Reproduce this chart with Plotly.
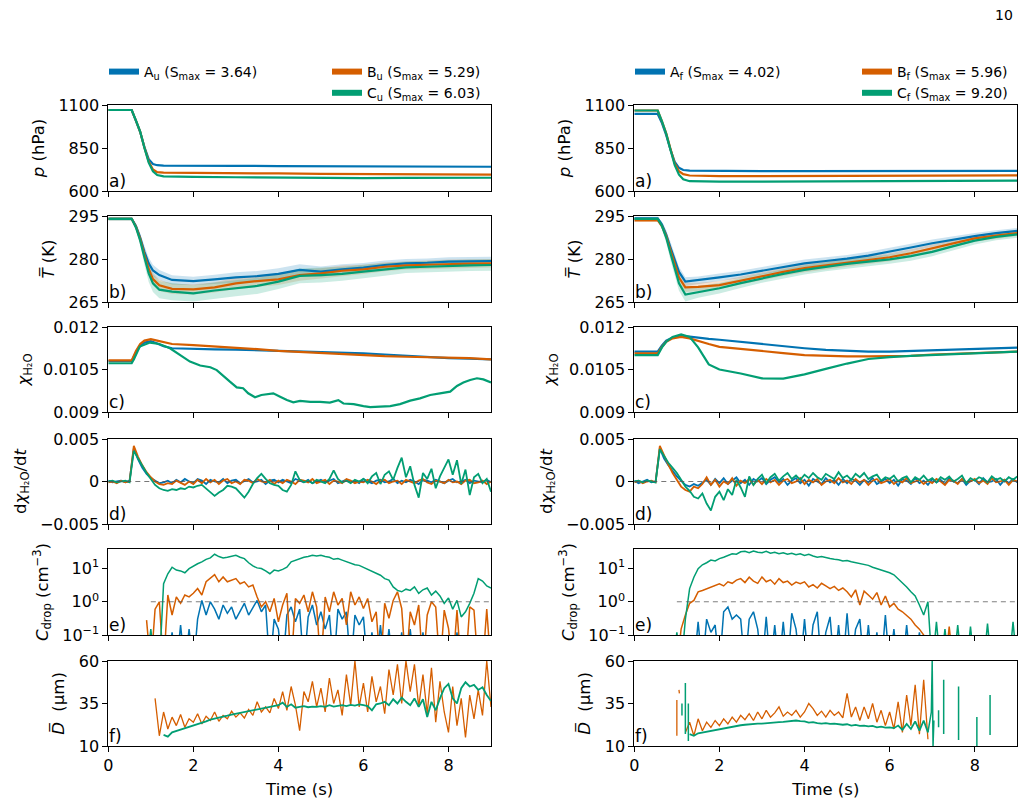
import plotly.graph_objects as go

BLUE = '#0173b2'
ORANGE = '#d55e00'
GREEN = '#029e73'

# ---------------- time grids ----------------
T10 = [0.0, 0.1, 0.2, 0.3, 0.4, 0.5, 0.6, 0.7, 0.8, 0.9,
       1.0, 1.1, 1.2, 1.3, 1.4, 1.5, 1.6, 1.7, 1.8, 1.9,
       2.0, 2.1, 2.2, 2.3, 2.4, 2.5, 2.6, 2.7, 2.8, 2.9,
       3.0, 3.1, 3.2, 3.3, 3.4, 3.5, 3.6, 3.7, 3.8, 3.9,
       4.0, 4.1, 4.2, 4.3, 4.4, 4.5, 4.6, 4.7, 4.8, 4.9,
       5.0, 5.1, 5.2, 5.3, 5.4, 5.5, 5.6, 5.7, 5.8, 5.9,
       6.0, 6.1, 6.2, 6.3, 6.4, 6.5, 6.6, 6.7, 6.8, 6.9,
       7.0, 7.1, 7.2, 7.3, 7.4, 7.5, 7.6, 7.7, 7.8, 7.9,
       8.0, 8.1, 8.2, 8.3, 8.4, 8.5, 8.6, 8.7, 8.8, 8.9,
       9.0]

# ---------------- a) pressure (hPa) ----------------
t_a = [0, 0.55, 0.65, 0.75, 0.85, 0.95, 1.05, 1.15, 1.3, 1.6, 2, 3, 4, 5, 6, 7, 8, 9]
p_Au = [1071, 1071, 1008, 943, 855, 785, 757, 750, 748, 747, 747, 746, 745, 744, 743, 742, 742, 741]
p_Bu = [1071, 1071, 1009, 944, 852, 772, 725, 710, 707, 706, 705, 704, 702, 700, 699, 698, 696, 695]
p_Cu = [1071, 1071, 1010, 945, 850, 765, 715, 693, 685, 683, 682, 680, 677, 676, 675, 676, 677, 677]
p_Af = [1048, 1048, 995, 925, 840, 770, 735, 722, 718, 717, 716, 716, 716, 716, 716, 716, 717, 717]
p_Bf = [1068, 1068, 1005, 935, 845, 760, 715, 698, 690, 688, 687, 687, 687, 688, 688, 689, 690, 691]
p_Cf = [1068, 1068, 1005, 933, 840, 750, 695, 668, 657, 655, 654, 654, 655, 656, 656, 657, 658, 660]

# ---------------- b) mean temperature (K) and spread ----------------
t_b = [0, 0.55, 0.65, 0.75, 0.85, 0.95, 1.05, 1.2, 1.5, 2, 2.5, 3, 3.5, 4, 4.5, 5, 5.5, 6, 6.5, 7, 7.5, 8, 8.5, 9]
T_Au = [294, 294, 291.5, 287.5, 282.5, 278.5, 276, 274.4, 272.7, 272.3, 272.9, 273.6, 274.0, 274.8, 276.2, 275.6, 276.4, 277.0, 277.9, 278.5, 278.7, 279.1, 279.2, 279.3]
T_Bu = [294, 294, 291.3, 287, 281.5, 276.5, 273, 270.8, 269.6, 269.4, 270.1, 271.5, 272.3, 272.9, 274.4, 275.0, 275.9, 276.4, 277.3, 277.8, 278.0, 278.3, 278.4, 278.5]
T_Cu = [294, 294, 291, 286.5, 280.5, 275, 271.5, 269.3, 268.6, 268.0, 269.0, 269.8, 270.6, 272.1, 274.1, 274.4, 274.8, 275.6, 276.4, 277.1, 277.3, 277.6, 277.8, 277.9]
sT_Au = [0.6, 0.6, 1.0, 1.5, 2.0, 2.0, 2.0, 1.8, 1.6, 1.5, 1.6, 1.8, 1.8, 2.0, 2.0, 1.8, 1.8, 1.6, 1.6, 1.5, 1.5, 1.5, 1.5, 1.5]
sT_Bu = [0.6, 0.6, 1.0, 1.5, 2.0, 2.2, 2.2, 2.0, 1.8, 1.8, 1.8, 2.0, 2.0, 2.0, 2.0, 1.8, 1.8, 1.6, 1.6, 1.5, 1.5, 1.5, 1.5, 1.5]
sT_Cu = [0.6, 0.6, 1.2, 1.8, 2.5, 3.0, 3.0, 3.0, 3.0, 2.8, 2.8, 2.8, 2.8, 2.6, 2.6, 2.6, 2.4, 2.4, 2.2, 2.0, 2.0, 2.0, 2.0, 2.0]
T_Af = [294.2, 294.2, 292, 288.5, 284, 279.5, 275.5, 272.1, 272.6, 273.6, 274.6, 275.9, 277.2, 278.5, 279.3, 280.1, 281.2, 282.5, 284.0, 285.5, 286.8, 288.0, 289.0, 289.8]
T_Bf = [293.5, 293.5, 291.5, 288, 283, 278, 273.5, 270.1, 270.3, 270.9, 272.5, 274.1, 275.5, 276.8, 277.8, 278.8, 279.7, 280.6, 282.0, 283.7, 285.5, 287.2, 288.2, 289.0]
T_Cf = [294, 294, 291.5, 287.5, 282, 276.5, 271.5, 267.6, 268.5, 269.8, 271.6, 273.3, 274.8, 276.2, 277.3, 278.3, 279.1, 279.9, 281.0, 282.5, 284.5, 286.4, 287.7, 288.6]
sT_Af = [0.5, 0.5, 1.0, 1.5, 2.0, 2.0, 1.8, 1.5, 1.3, 1.3, 1.3, 1.3, 1.3, 1.3, 1.3, 1.3, 1.3, 1.3, 1.3, 1.3, 1.2, 1.1, 1.0, 1.0]
sT_Bf = [0.5, 0.5, 1.0, 1.5, 2.0, 2.0, 1.8, 1.6, 1.4, 1.4, 1.4, 1.4, 1.4, 1.4, 1.4, 1.4, 1.4, 1.4, 1.4, 1.4, 1.3, 1.2, 1.1, 1.0]
sT_Cf = [0.5, 0.5, 1.2, 1.8, 2.4, 2.6, 2.6, 2.4, 2.0, 1.8, 1.7, 1.6, 1.6, 1.6, 1.6, 1.6, 1.6, 1.6, 1.6, 1.5, 1.4, 1.3, 1.2, 1.2]

# ---------------- c) water vapour mixing ratio ----------------
t_c = [0, 0.55, 0.65, 0.75, 0.85, 1.0, 1.15, 1.3, 1.5, 2, 2.5, 3, 3.5, 4, 4.5, 5, 5.5, 6, 6.5, 7, 7.5, 8, 8.5, 9]
chi_Au = [0.01080, 0.01080, 0.01110, 0.01133, 0.01145, 0.01150, 0.01142, 0.01132, 0.01125, 0.01122, 0.01121, 0.01120, 0.01118, 0.01116, 0.01113, 0.01110, 0.01109, 0.01107, 0.01103, 0.01098, 0.01093, 0.01090, 0.01088, 0.01086]
chi_Bu = [0.01082, 0.01082, 0.01115, 0.01140, 0.01152, 0.01157, 0.01152, 0.01146, 0.01140, 0.01136, 0.01132, 0.01128, 0.01122, 0.01116, 0.01112, 0.01107, 0.01103, 0.01100, 0.01097, 0.01095, 0.01094, 0.01093, 0.01090, 0.01086]
t_cg = [0, 0.55, 0.6, 0.74, 0.98, 1.2, 1.45, 1.68, 1.92, 2.16, 2.4, 2.55, 2.7, 2.86, 3.02, 3.17, 3.29, 3.45, 3.6, 3.73, 3.88, 4.04, 4.2, 4.35, 4.51, 4.75, 4.98, 5.21, 5.41, 5.53, 5.77, 6.0, 6.16, 6.39, 6.63, 6.86, 7.1, 7.33, 7.57, 7.8, 8.04, 8.2, 8.35, 8.51, 8.67, 8.82, 9.0]
chi_Cu = [0.01072, 0.01072, 0.01085, 0.01131, 0.01145, 0.01140, 0.01125, 0.01101, 0.01078, 0.01064, 0.01058, 0.01048, 0.01027, 0.01007, 0.00987, 0.00984, 0.00966, 0.00952, 0.00960, 0.00964, 0.00966, 0.00954, 0.00942, 0.00934, 0.00939, 0.00936, 0.00936, 0.00933, 0.00942, 0.00930, 0.00928, 0.00921, 0.00917, 0.00919, 0.00921, 0.00928, 0.00940, 0.00948, 0.00960, 0.00966, 0.00972, 0.00992, 0.01004, 0.01013, 0.01019, 0.01015, 0.01004]
t_c2 = [0, 0.55, 0.65, 0.75, 0.9, 1.1, 1.3, 1.5, 1.75, 2, 2.5, 3, 3.5, 4, 4.5, 5, 5.5, 6, 6.5, 7, 7.5, 8, 8.5, 9]
chi_Af = [0.01113, 0.01113, 0.01135, 0.01152, 0.01163, 0.01168, 0.01166, 0.01162, 0.01158, 0.01155, 0.01147, 0.01140, 0.01132, 0.01125, 0.01119, 0.01115, 0.01113, 0.01113, 0.01115, 0.01117, 0.01120, 0.01122, 0.01124, 0.01127]
chi_Bf = [0.01107, 0.01107, 0.01130, 0.01148, 0.01160, 0.01165, 0.01160, 0.01150, 0.01140, 0.01130, 0.01122, 0.01115, 0.01108, 0.01101, 0.01098, 0.01096, 0.01096, 0.01096, 0.01098, 0.01103, 0.01105, 0.01107, 0.01110, 0.01113]
chi_Cf = [0.01101, 0.01101, 0.01128, 0.01148, 0.01165, 0.01174, 0.01165, 0.01128, 0.01068, 0.01050, 0.01036, 0.01019, 0.01018, 0.01033, 0.01052, 0.01071, 0.01087, 0.01094, 0.01098, 0.01101, 0.01104, 0.01107, 0.01110, 0.01113]

# ---------------- d) d(chi)/dt, in units of 1e-3 (on T10) ----------------
dchi_Au_e3 = [0.1, -0.1, 0.0, 0.1, -0.1, 0.1, 3.9, 2.6, 1.6, 0.9,
              0.4, 0.1, -0.2, -0.1, 0.1, -0.2, 0.2, -0.1, 0.3, 0.0,
              -0.2, 0.3, 0.1, -0.3, 0.2, 0.0, -0.1, 0.3, -0.2, 0.1,
              0.2, -0.2, 0.1, 0.3, -0.1, 0.0, 0.2, -0.3, 0.1, 0.2,
              -0.1, 0.2, 0.0, -0.2, 0.3, 0.1, -0.1, 0.2, -0.2, 0.0,
              0.2, -0.1, 0.1, 0.3, -0.2, 0.0, 0.2, -0.1, 0.1, -0.2,
              0.3, 0.0, -0.2, 0.1, 0.2, -0.1, 0.0, 0.3, -0.2, 0.1,
              -0.1, 0.2, 0.0, -0.3, 0.2, 0.1, -0.1, 0.2, 0.0, -0.2,
              0.1, 0.3, -0.1, 0.0, 0.2, -0.2, 0.1, 0.0, -0.1, 0.2,
              -0.1]
dchi_Bu_e3 = [-0.1, 0.0, -0.2, 0.1, -0.1, 0.0, 4.2, 2.9, 1.9, 1.1,
              0.5, 0.0, -0.3, -0.4, -0.2, -0.3, 0.1, -0.2, -0.4, 0.0,
              -0.3, 0.2, -0.2, 0.3, -0.1, 0.2, -0.3, 0.1, 0.3, -0.2,
              0.0, -0.3, 0.2, 0.1, -0.2, 0.3, 0.0, -0.1, 0.2, -0.3,
              0.1, -0.2, 0.2, 0.0, -0.3, 0.2, 0.1, -0.1, 0.3, -0.2,
              0.0, 0.2, -0.3, 0.1, 0.0, -0.2, 0.3, 0.1, -0.2, 0.0,
              -0.1, 0.2, 0.0, -0.3, 0.1, 0.2, -0.2, 0.0, 0.1, -0.3,
              0.2, 0.0, -0.2, 0.1, 0.3, -0.1, -0.3, 0.1, 0.0, -0.2,
              0.2, -0.1, 0.0, -0.3, 0.1, 0.2, -0.2, -0.1, 0.1, -0.3,
              0.0]
dchi_Cu_e3 = [0.0, 0.1, -0.1, 0.0, 0.1, -0.1, 3.6, 2.7, 1.8, 1.0,
              0.3, -0.4, -0.8, -1.0, -1.1, -0.9, -1.0, -0.8, -0.9, -0.6,
              -0.7, -0.5, -0.4, -0.8, -1.2, -1.7, -1.3, -1.0, -0.5, -0.6,
              -0.8, -1.3, -1.9, -1.2, -0.3, 0.4, 0.9, 0.3, -0.2, -0.4,
              -0.5, -1.0, -1.2, -0.4, 1.2, 0.2, -0.1, 0.1, -0.2, 0.2,
              0.0, -0.2, 0.3, 1.3, 0.3, -0.1, 0.1, -0.2, 0.2, 0.0,
              0.3, -0.2, 0.6, 1.0, -0.3, 0.8, 1.2, 0.2, 1.6, 2.8,
              0.5, 1.8, -0.4, -1.9, 1.0, 0.3, 1.5, -0.8, 0.6, 1.7,
              2.6, 0.8, 2.5, -0.3, 1.4, -1.6, 0.5, 0.9, -0.2, 0.3,
              -1.2]
dchi_Af_e3 = [0.1, -0.2, 0.0, 0.2, -0.1, 0.0, 3.9, 2.7, 1.9, 1.2,
              0.6, 0.1, -0.4, -0.6, -0.3, -0.5, -0.2, 0.2, -0.4, 0.3,
              -0.2, 0.4, -0.3, 0.1, 0.5, -0.2, 0.2, -0.4, 0.3, 0.0,
              0.4, -0.3, 0.2, 0.5, -0.1, 0.3, -0.4, 0.1, 0.4, -0.2,
              0.2, -0.5, 0.3, 0.0, -0.3, 0.4, -0.1, 0.2, -0.4, 0.3,
              -0.2, 0.3, 0.1, -0.4, 0.2, -0.1, 0.4, -0.3, 0.0, 0.3,
              -0.2, 0.2, -0.5, 0.3, 0.1, -0.3, 0.4, -0.2, 0.1, -0.4,
              0.3, -0.1, 0.2, -0.3, 0.4, 0.0, -0.2, 0.3, -0.4, 0.1,
              0.2, -0.3, 0.4, -0.1, 0.0, 0.3, -0.4, 0.2, -0.2, 0.3,
              -0.1]
dchi_Bf_e3 = [-0.1, 0.1, -0.2, 0.0, 0.1, -0.1, 4.2, 3.0, 2.0, 1.0,
              0.2, -0.6, -1.0, -1.2, -0.6, -0.8, -0.3, 0.5, -0.4, 0.2,
              -0.6, 0.0, -0.3, 0.4, -0.5, 0.1, -0.2, 0.3, -0.4, 0.2,
              -0.3, 0.3, -0.1, 0.2, -0.4, 0.1, 0.3, -0.2, 0.0, 0.4,
              -0.3, 0.2, -0.1, 0.3, -0.4, 0.0, 0.2, -0.2, 0.4, -0.1,
              0.1, -0.3, 0.3, -0.1, 0.2, -0.4, 0.1, 0.3, -0.2, 0.0,
              0.3, -0.3, 0.1, -0.1, 0.4, -0.2, 0.0, 0.2, -0.3, 0.1,
              -0.2, 0.3, 0.0, -0.4, 0.2, 0.1, -0.3, 0.3, -0.1, 0.0,
              0.3, -0.2, 0.1, -0.3, 0.4, -0.1, 0.0, 0.2, -0.4, 0.2,
              0.0]
dchi_Cf_e3 = [0.0, 0.1, -0.1, 0.1, 0.0, -0.1, 3.8, 3.0, 2.2, 1.6,
              1.0, 0.2, -0.6, -1.1, -1.8, -2.0, -1.4, -2.6, -3.4, -1.8,
              -1.2, -2.2, -0.9, -1.6, 0.2, -0.7, -1.8, 0.6, -0.4, 0.3,
              0.8, -0.2, 0.5, 0.9, 0.1, 0.6, 1.0, 0.3, 0.7, 0.2,
              0.8, 0.4, 1.0, 0.5, 0.2, 0.9, 0.6, 0.3, 1.1, 0.4,
              0.7, 0.2, 0.9, 0.5, 1.0, 0.3, 0.6, 0.8, 0.1, 0.5,
              0.3, 0.7, 0.0, 0.4, 0.6, -0.1, 0.5, 0.2, 0.7, 0.1,
              0.4, -0.1, 0.5, 0.2, 0.6, 0.0, 0.3, 0.7, -0.2, 0.4,
              0.1, 0.5, 0.3, -0.1, 0.6, 0.2, 0.4, 0.0, 0.5, 0.2,
              0.6]

# ---------------- e) droplet concentration (cm^-3) on T10; 0.01 = below axis ----------------
N = None
C_Au = [N, N, N, N, N, N, N, N, N, N,
        N, N, N, N, 0.01, 0.12, 0.01, 0.2, 0.01, 0.15,
        0.01, 0.3, 1.1, 0.4, 1.0, 0.6, 0.3, 0.8, 0.45, 0.7,
        0.3, 0.5, 0.9, 0.4, 0.7, 1.1, 0.5, 0.8, 0.01, 0.3,
        0.15, 0.01, 0.4, 0.7, 0.25, 0.6, 0.01, 0.35, 0.8, 0.2,
        0.5, 0.15, 0.4, 0.01, 0.6, 0.3, 0.5, 0.01, 0.4, 0.2,
        0.35, 0.01, 0.12, 0.01, 0.2, 0.01, 0.15, 0.01, 0.01, 0.12,
        0.01, 0.15, 0.01, 0.01, 0.12, 0.01, 0.01, 0.01, 0.01, 0.01,
        0.01, 0.01, 0.12, 0.01, 0.01, N, N, N, N, N,
        N]
C_Bu = [N, N, N, N, N, N, N, N, N, 0.28,
        0.01, 0.6, 1.0, 0.01, 1.6, 0.4, 1.4, 0.9, 1.6, 1.4,
        1.8, 2.5, 1.6, 4.0, 5.0, 6.6, 4.0, 5.6, 4.0, 4.5,
        5.0, 3.5, 4.0, 2.8, 3.2, 1.4, 0.7, 1.0, 0.5, 1.26,
        0.25, 0.8, 1.8, 0.01, 1.26, 0.9, 1.6, 0.5, 2.0, 0.7,
        0.01, 1.4, 0.5, 2.0, 0.8, 1.26, 0.2, 2.0, 0.8, 1.4,
        0.63, 1.26, 0.25, 0.5, 0.01, 0.9, 0.32, 1.1, 2.0, 0.63,
        0.01, 0.5, 0.2, 0.8, 0.01, 0.4, 1.0, 0.7, 0.01, 0.56,
        0.16, 0.01, 0.56, 0.01, 0.01, 0.7, 0.56, 0.01, 0.01, 0.6,
        0.01]
C_Cu = [N, N, N, N, N, N, N, N, N, 0.01,
        0.15, 0.01, 0.01, 3.5, 7.0, 11.0, 9.0, 8.5, 7.5, 10.0,
        12.0, 14.0, 16.0, 19.0, 21.0, 27.0, 23.0, 21.0, 22.0, 24.0,
        25.0, 22.0, 20.0, 15.0, 12.0, 10.5, 10.0, 8.5, 7.0, 9.0,
        8.5, 9.5, 11.0, 16.0, 18.0, 20.0, 22.0, 23.0, 25.0, 24.0,
        25.0, 23.0, 22.0, 19.0, 20.0, 18.0, 16.0, 14.0, 13.0, 12.5,
        11.0, 9.5, 8.5, 7.5, 6.3, 5.0, 4.5, 2.8, 2.2, 2.0,
        2.4, 2.2, 2.8, 1.8, 2.3, 2.6, 1.6, 2.1, 1.5, 0.9,
        1.3, 0.6, 1.1, 0.35, 0.5, 0.9, 1.8, 5.0, 4.2, 3.0,
        2.6]
C_Af = [N, N, N, N, N, N, N, N, N, N,
        N, N, N, N, 0.01, 0.25, 0.01, 0.3, 0.12, 0.2,
        0.01, 0.5, 0.7, 0.3, 0.4, 0.3, 0.01, 0.3, 0.5, 0.15,
        0.01, 0.35, 0.01, 0.2, 0.01, 0.25, 0.01, 0.45, 0.15, 0.01,
        0.3, 0.01, 0.2, 0.5, 0.01, 0.12, 0.35, 0.01, 0.2, 0.01,
        0.45, 0.01, 0.15, 0.3, 0.01, 0.2, 0.01, 0.12, 0.01, 0.4,
        0.01, 0.15, 0.01, 0.01, 0.2, 0.01, 0.01, 0.12, 0.01, 0.01,
        N, N, N, N, N, N, N, N, N, N,
        N, N, N, N, N, N, N, N, N, N,
        N]
C_Bf = [N, N, N, N, N, N, N, N, N, N,
        0.01, 0.15, 0.4, 0.9, 1.1, 2.0, 2.2, 2.5, 2.8, 3.2,
        3.5, 3.0, 4.0, 3.6, 4.5, 5.0, 3.8, 5.5, 4.2, 3.6,
        5.6, 4.0, 4.6, 3.4, 5.0, 3.8, 4.2, 3.2, 3.9, 3.5,
        4.0, 2.8, 3.3, 2.6, 3.6, 3.0, 2.5, 2.9, 2.2, 2.6,
        2.0, 1.4, 2.3, 0.8, 2.1, 1.6, 1.2, 1.9, 0.8, 1.5,
        0.7, 0.9, 0.6, 0.5, 0.4, 0.3, 0.2, 0.15, 0.1, 0.01,
        0.01, N, N, 0.01, 0.18, 0.01, N, N, N, N,
        N, N, N, N, N, N, N, N, N, N,
        N]
C_Cf = [N, N, N, N, N, N, N, N, N, 0.01,
        0.12, 0.01, 0.3, 2.5, 5.5, 10.0, 13.0, 15.0, 18.0, 17.0,
        20.0, 22.0, 25.0, 28.0, 27.0, 32.0, 33.0, 30.0, 34.0, 31.0,
        30.0, 33.0, 29.0, 31.0, 28.0, 30.0, 27.0, 29.0, 26.0, 28.0,
        25.0, 27.0, 24.0, 22.0, 23.0, 21.0, 20.0, 19.0, 18.5, 17.0,
        17.5, 16.0, 15.0, 14.0, 13.0, 12.5, 11.0, 10.0, 9.0, 8.5,
        7.5, 6.5, 5.0, 3.8, 2.8, 2.0, 1.5, 0.8, 0.4, 1.0,
        0.01, 0.25, 0.01, 0.15, 0.01, 0.01, 0.2, 0.01, 0.01, 0.18,
        0.01, 0.01, 0.01, 0.22, 0.01, 0.01, 0.01, 0.01, 0.01, 0.25,
        0.01]

# ---------------- f) mean droplet diameter (um) on T10 ----------------
D_Bu = [N, N, N, N, N, N, N, N, N, N,
        N, 38.0, 16.0, 30.0, 20.0, 27.0, 22.0, 28.5, 21.0, 26.0,
        24.0, 29.0, 23.0, 27.5, 25.0, 30.0, 24.5, 28.0, 26.0, 30.5,
        27.0, 29.5, 26.5, 31.5, 28.0, 36.0, 30.0, 33.0, 29.5, 38.0,
        32.0, 42.0, 31.0, 45.0, 34.0, 19.0, 42.0, 36.0, 48.0, 33.0,
        44.0, 30.0, 50.0, 35.0, 43.0, 28.0, 52.0, 34.0, 60.0, 33.0,
        47.0, 30.0, 51.0, 36.0, 45.0, 29.0, 55.0, 40.0, 58.0, 35.0,
        60.0, 42.0, 58.0, 33.0, 52.0, 29.0, 56.0, 24.0, 48.0, 30.0,
        18.0, 45.0, 22.0, 38.0, 15.0, 40.0, 26.0, 43.0, 28.0, 60.0,
        33.0]
D_Cu = [N, N, N, N, N, N, N, N, N, N,
        N, N, N, 16.5, 15.5, 18.0, 18.8, 19.5, 20.5, 21.0,
        22.0, 22.8, 23.5, 24.5, 25.5, 26.0, 26.5, 27.0, 27.8, 28.5,
        29.0, 29.5, 30.0, 30.5, 31.0, 31.8, 32.0, 32.5, 33.0, 33.5,
        34.0, 35.5, 33.0, 34.5, 32.5, 33.0, 33.5, 32.8, 33.2, 33.0,
        33.5, 33.0, 34.0, 33.2, 33.8, 34.0, 33.5, 34.2, 33.8, 34.5,
        34.0, 33.5, 31.0, 34.5, 35.0, 36.0, 34.0, 37.5, 35.0, 38.5,
        36.0, 34.0, 38.0, 33.0, 37.5, 27.0, 36.0, 31.0, 38.0, 44.0,
        46.5, 38.0, 35.0, 44.0, 47.5, 45.0, 46.0, 43.0, 44.5, 40.0,
        36.5]
D_Bf = [N, N, N, N, N, N, N, N, N, N,
        N, N, 18.0, 24.0, 16.0, 26.0, 19.0, 24.0, 21.0, 25.0,
        22.0, 26.0, 23.0, 27.0, 24.0, 28.0, 25.5, 29.0, 25.0, 30.0,
        26.0, 31.0, 27.0, 29.5, 33.0, 27.5, 30.0, 28.0, 31.0, 27.0,
        30.0, 35.0, 32.0, 28.0, 30.5, 27.0, 31.0, 28.0, 30.0, 26.5,
        41.0, 27.0, 33.0, 25.0, 33.0, 26.0, 35.0, 24.0, 31.0, 22.0,
        30.0, 20.0, 36.0, 18.0, 40.0, 22.0, 46.0, 17.0, 49.0, 14.0,
        N, N, N, N, N, N, N, N, N, N,
        N, N, N, N, N, N, N, N, N, N,
        N]
D_Cf = [N, N, N, N, N, N, N, N, N, N,
        N, N, N, 17.0, 16.0, 17.5, 18.0, 18.5, 19.0, 19.5,
        20.0, 20.5, 21.0, 21.5, 21.8, 22.2, 22.5, 22.8, 23.0, 23.2,
        23.2, 23.5, 23.4, 23.8, 24.0, 24.2, 24.5, 24.8, 25.0, 24.6,
        24.5, 23.8, 24.0, 23.5, 23.2, 23.5, 23.0, 23.2, 22.8, 22.5,
        22.8, 22.0, 22.4, 21.8, 22.0, 21.5, 21.8, 21.0, 21.4, 20.8,
        21.0, 20.5, 22.0, 19.5, 23.0, 20.0, 24.5, 19.0, 25.0, 18.0,
        N, N, N, N, N, N, N, N, N, N,
        N, N, N, N, N, N, N, N, N, N,
        N]
# isolated short segments (start/end of the record)
t_Bf_frag = [1.0, 1.0, N, 1.05, 1.06]
D_Bf_frag = [37.0, 16.0, N, 43.0, 41.0]
t_Cf_frag = [1.12, 1.12, N, 1.2, 1.2, N, 1.27, 1.27, N, 6.9, 6.98, 7.0, 7.02, 7.04, N,
             7.15, 7.15, N, 7.27, 7.27, N, 7.62, 7.62, N, 8.05, 8.05, N, 8.36, 8.36]
D_Cf_frag = [35.0, 28.0, N, 47.0, 17.0, N, 35.0, 13.0, N, 18.0, 30.0, 60.0, 10.0, 25.0, N,
             31.0, 21.0, N, 49.0, 17.0, N, 45.0, 13.5, N, 27.0, 10.0, N, 40.0, 16.5]

for arr in [dchi_Au_e3, dchi_Bu_e3, dchi_Cu_e3, dchi_Af_e3, dchi_Bf_e3, dchi_Cf_e3,
            C_Au, C_Bu, C_Cu, C_Af, C_Bf, C_Cf, D_Bu, D_Cu, D_Bf, D_Cf]:
    assert len(arr) == len(T10), len(arr)

# ---------------- legend / labels ----------------
names_u = ['A<sub>u</sub> (S<sub>max</sub> = 3.64)', 'B<sub>u</sub> (S<sub>max</sub> = 5.29)',
           'C<sub>u</sub> (S<sub>max</sub> = 6.03)']
names_f = ['A<sub>f</sub> (S<sub>max</sub> = 4.02)', 'B<sub>f</sub> (S<sub>max</sub> = 5.96)',
           'C<sub>f</sub> (S<sub>max</sub> = 9.20)']
panel_labels = ['a)', 'b)', 'c)', 'd)', 'e)', 'f)']
ytitles = ['<i>p</i> (hPa)', '<i>T\u0305</i> (K)', '<i>\u03c7</i><sub>H\u2082O</sub>',
           'd<i>\u03c7</i><sub>H\u2082O</sub>/d<i>t</i>', '<i>C</i><sub>drop</sub> (cm<sup>\u22123</sup>)',
           '<i>D\u0305</i>  (\u03bcm)']
yranges = [[600, 1100], [265, 295], [0.009, 0.012], [-0.005, 0.005], [-1, 1.59], [10, 60]]
ytickvals = [[600, 850, 1100], [265, 280, 295], [0.009, 0.0105, 0.012], [-0.005, 0, 0.005],
             [0.1, 1, 10], [10, 35, 60]]
yticktext = [['600', '850', '1100'], ['265', '280', '295'], ['0.009', '0.0105', '0.012'],
             ['\u22120.005', '0', '0.005'], ['10<sup>\u22121</sup>', '10<sup>0</sup>', '10<sup>1</sup>'],
             ['10', '35', '60']]

# ---------------- layout geometry ----------------
W, H = 1026, 807
col_px = [(108.3, 491.0), (634.3, 1017.3)]
row_px = [(105, 191), (216, 302), (327, 412), (439, 524), (549, 635), (661, 746)]
FONT = 'DejaVu Sans'

fig = go.Figure()


def k_of(r, c):
    return r * 2 + c + 1


def xr(k):
    return 'x' if k == 1 else 'x%d' % k


def yr(k):
    return 'y' if k == 1 else 'y%d' % k


def line(k, x, y, color, width, **kw):
    fig.add_trace(go.Scatter(x=x, y=y, mode='lines', line=dict(color=color, width=width),
                             xaxis=xr(k), yaxis=yr(k), showlegend=False, hoverinfo='skip', **kw))


def band(k, x, mean, spread, rgba):
    up = [m + s for m, s in zip(mean, spread)]
    lo = [m - s for m, s in zip(mean, spread)]
    fig.add_trace(go.Scatter(x=list(x) + list(x)[::-1], y=up + lo[::-1], mode='lines', fill='toself',
                             fillcolor=rgba, line=dict(width=0), xaxis=xr(k), yaxis=yr(k),
                             showlegend=False, hoverinfo='skip'))


scale = 1e-3
cols = [
    dict(p=[p_Au, p_Bu, p_Cu], T=[T_Au, T_Bu, T_Cu], sT=[sT_Au, sT_Bu, sT_Cu], tb=t_b,
         chi=[(t_c, chi_Au), (t_c, chi_Bu), (t_cg, chi_Cu)],
         d=[dchi_Au_e3, dchi_Bu_e3, dchi_Cu_e3], C=[C_Au, C_Bu, C_Cu], D=[D_Bu, D_Cu]),
    dict(p=[p_Af, p_Bf, p_Cf], T=[T_Af, T_Bf, T_Cf], sT=[sT_Af, sT_Bf, sT_Cf], tb=t_b,
         chi=[(t_c2, chi_Af), (t_c2, chi_Bf), (t_c2, chi_Cf)],
         d=[dchi_Af_e3, dchi_Bf_e3, dchi_Cf_e3], C=[C_Af, C_Bf, C_Cf], D=[D_Bf, D_Cf]),
]
colors = [BLUE, ORANGE, GREEN]
band_rgba = ['rgba(1,115,178,0.2)', 'rgba(213,94,0,0.18)', 'rgba(2,158,115,0.2)']

for c, cd in enumerate(cols):
    # a)
    k = k_of(0, c)
    for s in range(3):
        line(k, t_a, cd['p'][s], colors[s], 2.2)
    # b)
    k = k_of(1, c)
    for s in range(3):
        band(k, cd['tb'], cd['T'][s], cd['sT'][s], band_rgba[s])
    for s in range(3):
        line(k, cd['tb'], cd['T'][s], colors[s], 2.2)
    # c)
    k = k_of(2, c)
    for s in range(3):
        tt, vv = cd['chi'][s]
        line(k, tt, vv, colors[s], 2.2)
    # d)
    k = k_of(3, c)
    for s in range(3):
        line(k, T10, [v * scale for v in cd['d'][s]], colors[s], 1.8)
    line(k, [0, 9], [0, 0], '#555555', 1.1, opacity=0.8)
    fig.data[-1].line.dash = '5px,4px'
    # e)
    k = k_of(4, c)
    for s in range(3):
        line(k, T10, cd['C'][s], colors[s], 1.5)
    line(k, [1, 9], [1, 1], '#555555', 1.1, opacity=0.75)
    fig.data[-1].line.dash = '5px,4px'
    # f)
    k = k_of(5, c)
    line(k, T10, cd['D'][0], ORANGE, 1.3)
    line(k, T10, cd['D'][1], GREEN, 1.8)
    if c == 1:
        line(k, t_Bf_frag, D_Bf_frag, ORANGE, 1.3)
        line(k, t_Cf_frag, D_Cf_frag, GREEN, 1.5)

# legend-only entries
legend_groups = [('legend', [0], names_u), ('legend2', [1, 2], names_u),
                 ('legend3', [0], names_f), ('legend4', [1, 2], names_f)]
for lg, idxs, nm in legend_groups:
    for s in idxs:
        fig.add_trace(go.Scatter(x=[None], y=[None], mode='lines', line=dict(color=colors[s], width=6),
                                 name=nm[s], legend=lg, showlegend=True, xaxis='x', yaxis='y'))

layout = dict(width=W, height=H, margin=dict(l=0, r=0, t=0, b=0), autosize=False,
              paper_bgcolor='white', plot_bgcolor='white',
              font=dict(family=FONT, size=15, color='black'))
axis_style = dict(showline=True, linecolor='black', linewidth=1, mirror=True, ticks='outside',
                  ticklen=5, tickwidth=1, tickcolor='black', showgrid=False, zeroline=False,
                  tickfont=dict(family=FONT, size=16, color='black'), automargin=False)
annotations = []
for r in range(6):
    for c in range(2):
        k = k_of(r, c)
        x0, x1 = col_px[c]
        y0, y1 = row_px[r]
        xa = dict(axis_style, domain=[x0 / W, x1 / W], anchor=yr(k), range=[0, 9],
                  tickvals=[0, 2, 4, 6, 8], ticktext=['0', '2', '4', '6', '8'], showticklabels=(r == 5))
        if r == 5:
            xa['title'] = dict(text='Time (s)', font=dict(family=FONT, size=16.5), standoff=9)
        ya = dict(axis_style, domain=[1 - y1 / H, 1 - y0 / H], anchor=xr(k), range=yranges[r],
                  tickvals=ytickvals[r], ticktext=yticktext[r],
                  title=dict(text=ytitles[r], font=dict(family=FONT, size=16.5), standoff=9))
        if r == 4:
            ya['type'] = 'log'
        layout['xaxis' if k == 1 else 'xaxis%d' % k] = xa
        layout['yaxis' if k == 1 else 'yaxis%d' % k] = ya
        annotations.append(dict(text=panel_labels[r], xref=xr(k) + ' domain', yref=yr(k) + ' domain',
                                x=0, y=0, xanchor='left', yanchor='bottom', showarrow=False,
                                xshift=-1, yshift=-2, font=dict(family=FONT, size=17, color='black')))

annotations.append(dict(text='10', xref='paper', yref='paper', x=1015 / W, y=1 - 15 / H,
                        xanchor='right', yanchor='middle', showarrow=False,
                        font=dict(family=FONT, size=14, color='black')))
layout['annotations'] = annotations

leg_common = dict(bgcolor='rgba(0,0,0,0)', borderwidth=0, xanchor='left', yanchor='top',
                  font=dict(family=FONT, size=14, color='black'), tracegroupgap=0,
                  itemwidth=30, orientation='v')
layout['legend'] = dict(leg_common, x=104 / W, y=1 - 56 / H)
layout['legend2'] = dict(leg_common, x=327 / W, y=1 - 56 / H)
layout['legend3'] = dict(leg_common, x=630 / W, y=1 - 56 / H)
layout['legend4'] = dict(leg_common, x=857 / W, y=1 - 56 / H)

fig.update_layout(**layout)
fig.write_html('out.html')
